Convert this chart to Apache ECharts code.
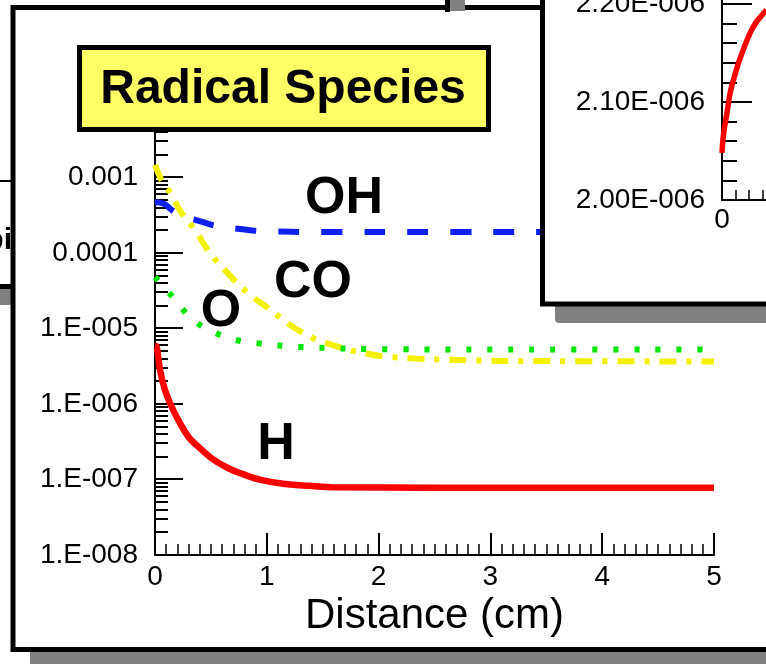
<!DOCTYPE html>
<html>
<head>
<meta charset="utf-8">
<script src="https://cdn.jsdelivr.net/npm/echarts@6/dist/echarts.min.js"></script>
<style>
  html, body { margin: 0; padding: 0; background: #ffffff; }
  #chart { width: 766px; height: 664px; }
</style>
</head>
<body>
<div id="chart"></div>
<script>
// Radical species mole fractions along the flame, distance in cm
const ohX = [0, 0.08, 0.15, 0.25, 0.4, 0.55, 0.76, 0.94, 1.5, 2.5, 3.5, 5];
const ohY = [4.7e-4, 4.5e-4, 3.7e-4, 3.1e-4, 2.65e-4, 2.28e-4, 2.08e-4, 1.95e-4, 1.9e-4, 1.9e-4, 1.9e-4, 1.9e-4];

const coX = [0, 0.07, 0.15, 0.22, 0.37, 0.47, 0.64, 0.83, 1.01, 1.21, 1.41, 1.61, 1.81, 2.1, 2.8, 3.5, 5];
const coY = [1.47e-3, 8.5e-4, 5.9e-4, 3.7e-4, 1.9e-4, 1.1e-4, 5.6e-5, 2.95e-5, 1.87e-5, 1.11e-5, 7.5e-6, 5.9e-6, 4.9e-6, 4.2e-6, 3.8e-6, 3.7e-6, 3.66e-6];

const oX = [0, 0.16, 0.34, 0.54, 0.72, 0.91, 1.3, 2.2, 3.5, 5];
const oY = [4.8e-5, 2.6e-5, 1.3e-5, 8.7e-6, 7.05e-6, 6.4e-6, 5.7e-6, 5.3e-6, 5.25e-6, 5.25e-6];

const hX = [0, 0.015, 0.045, 0.089, 0.149, 0.208, 0.298, 0.387, 0.507, 0.656, 0.805, 0.954, 1.163, 1.402, 1.58, 2.5, 3.5, 5];
const hY = [5.9e-6, 5.74e-6, 2.82e-6, 1.53e-6, 9.2e-7, 6.14e-7, 3.69e-7, 2.72e-7, 1.91e-7, 1.41e-7, 1.15e-7, 9.8e-8, 8.7e-8, 8.2e-8, 7.9e-8, 7.8e-8, 7.8e-8, 7.8e-8];

// Close-up of H near the burner surface
const zoomX = [0, 0.0012, 0.0036, 0.006, 0.0084, 0.012, 0.0157, 0.0207, 0.0256, 0.0305, 0.033];
const zoomY = [2.048e-6, 2.068e-6, 2.088e-6, 2.109e-6, 2.122e-6, 2.139e-6, 2.153e-6, 2.170e-6, 2.182e-6, 2.190e-6, 2.194e-6];

// Log-axis labels, one per decade from 1e-8 to 1e-3
const yDecadeLabels = ['1.E-008', '1.E-007', '1.E-006', '1.E-005', '0.0001', '0.001'];
const yMin = 1e-8, yMax = 0.004;

// Major and minor log ticks (1..9 x 10^k) drawn as short inward marks
const logTicks = [];
for (let k = -8; k <= -3; k++) {
  for (let m = 1; m <= 9; m++) {
    const v = m * Math.pow(10, k);
    if (v <= yMax * 1.0001) logTicks.push([0, v, m === 1 ? 1 : 0]);
  }
}

const pairs = (xs, ys) => xs.map((x, i) => [x, ys[i]]);
const FONT = '"Liberation Sans", Arial, Helvetica, sans-serif';

const chart = echarts.init(document.getElementById('chart'), null, { renderer: 'canvas' });

chart.setOption({
  animation: false,
  backgroundColor: '#ffffff',
  grid: [
    { left: 155, top: 132, width: 559, height: 423, outerBoundsMode: 'none', containLabel: false },
    { left: 722, top: -94, width: 540, height: 294, outerBoundsMode: 'none', containLabel: false }
  ],
  xAxis: [
    {
      gridIndex: 0, type: 'value', min: 0, max: 5, interval: 1, z: 3,
      name: 'Distance (cm)', nameLocation: 'middle', nameGap: 37,
      nameTextStyle: { fontFamily: FONT, fontSize: 42, color: '#000' },
      axisLine: { show: true, onZero: false, lineStyle: { color: '#000', width: 2 } },
      axisTick: { show: true, inside: true, length: 22, lineStyle: { color: '#000', width: 2 } },
      minorTick: { show: true, splitNumber: 10, length: 11, lineStyle: { color: '#000', width: 1.5 } },
      axisLabel: { fontFamily: FONT, fontSize: 28, color: '#000', margin: 8 },
      splitLine: { show: false }
    },
    {
      gridIndex: 1, type: 'value', min: 0, max: 0.4, interval: 0.1, z: 8,
      axisLine: { show: true, onZero: false, lineStyle: { color: '#000', width: 2 } },
      axisTick: { show: true, inside: true, length: 30, lineStyle: { color: '#000', width: 2 } },
      minorTick: { show: true, splitNumber: 10, length: 10, lineStyle: { color: '#000', width: 1.5 } },
      axisLabel: { fontFamily: FONT, fontSize: 28, color: '#000', margin: 6 },
      splitLine: { show: false }
    }
  ],
  yAxis: [
    {
      gridIndex: 0, type: 'log', logBase: 10, min: yMin, max: yMax, z: 3,
      axisLine: { show: true, onZero: false, lineStyle: { color: '#000', width: 2 } },
      axisTick: { show: false },
      axisLabel: {
        fontFamily: FONT, fontSize: 28, color: '#000', margin: 17, showMaxLabel: false,
        padding: [4, 0, 0, 0],
        formatter: v => yDecadeLabels[Math.round(Math.log10(v)) + 8] || ''
      },
      splitLine: { show: false }
    },
    {
      gridIndex: 1, type: 'value', min: 2.0e-6, max: 2.3e-6, interval: 1e-7, z: 8,
      axisLine: { show: true, onZero: false, lineStyle: { color: '#000', width: 2 } },
      axisTick: { show: true, inside: true, length: 30, lineStyle: { color: '#000', width: 2 } },
      minorTick: { show: true, splitNumber: 5, length: 15, lineStyle: { color: '#000', width: 2 } },
      axisLabel: {
        fontFamily: FONT, fontSize: 28, color: '#000', margin: 17,
        padding: [4, 0, 0, 0],
        formatter: v => (v * 1e6).toFixed(2) + 'E-006'
      },
      splitLine: { show: false }
    }
  ],
  series: [
    {
      type: 'custom', name: 'logTicks', xAxisIndex: 0, yAxisIndex: 0, z: 3,
      silent: true, clip: false, data: logTicks, encode: { x: 0, y: 1 },
      renderItem: (params, api) => {
        const p = api.coord([0, api.value(1)]);
        const len = api.value(2) ? 28 : 13;
        return {
          type: 'line',
          shape: { x1: p[0], y1: Math.round(p[1]), x2: p[0] + len, y2: Math.round(p[1]) },
          style: { stroke: '#000', lineWidth: 2 }
        };
      }
    },
    {
      type: 'line', name: 'OH', xAxisIndex: 0, yAxisIndex: 0, z: 4,
      data: pairs(ohX, ohY), symbol: 'none', smooth: 0.4,
      lineStyle: { color: '#1020f0', width: 6, type: [21, 22], cap: 'butt' }
    },
    {
      type: 'line', name: 'CO', xAxisIndex: 0, yAxisIndex: 0, z: 4,
      data: pairs(coX, coY), symbol: 'none', smooth: 0.4,
      lineStyle: { color: '#f2f200', width: 6, type: [17, 10, 5, 10], cap: 'butt' }
    },
    {
      type: 'line', name: 'O', xAxisIndex: 0, yAxisIndex: 0, z: 4,
      data: pairs(oX, oY), symbol: 'none', smooth: 0.4,
      lineStyle: { color: '#00e600', width: 6, type: [5, 16], cap: 'butt' }
    },
    {
      type: 'line', name: 'H', xAxisIndex: 0, yAxisIndex: 0, z: 4,
      data: pairs(hX, hY), symbol: 'none', smooth: 0.4,
      lineStyle: { color: '#ff0000', width: 6.5 }
    },
    {
      type: 'line', name: 'H (near surface)', xAxisIndex: 1, yAxisIndex: 1, z: 9,
      data: pairs(zoomX, zoomY), symbol: 'none', smooth: 0.4,
      lineStyle: { color: '#ff0000', width: 5.5 }
    }
  ],
  graphic: [
    // pieces of the neighbouring panels
    { type: 'rect', z: 0, shape: { x: 0, y: 180, width: 12, height: 2 }, style: { fill: '#000' } },
    { type: 'text', z: 0, x: 12, y: 241,
      style: { text: 'pi', font: 'bold 30px ' + FONT, fill: '#000', align: 'right', verticalAlign: 'middle', textAlign: 'right', textVerticalAlign: 'middle' } },
    { type: 'rect', z: 0, shape: { x: 0, y: 284, width: 12, height: 5 }, style: { fill: '#000' } },
    { type: 'rect', z: 0, shape: { x: 0, y: 289, width: 11, height: 16 }, style: { fill: '#808080' } },
    // main panel with drop shadow
    { type: 'rect', z: 0, shape: { x: 30, y: 30, width: 900, height: 700 }, style: { fill: '#808080' } },
    { type: 'rect', z: 1, shape: { x: 13, y: 7.5, width: 900, height: 642 }, style: { fill: '#ffffff', stroke: '#000', lineWidth: 5 } },
    { type: 'rect', z: 2, shape: { x: 445, y: 0, width: 5, height: 12 }, style: { fill: '#000' } },
    { type: 'rect', z: 2, shape: { x: 450, y: 0, width: 15, height: 11 }, style: { fill: '#808080' } },
    // species names
    { type: 'text', z: 5, x: 344, y: 199,
      style: { text: 'OH', font: 'bold 52px ' + FONT, fill: '#000', align: 'center', verticalAlign: 'middle', textAlign: 'center', textVerticalAlign: 'middle' } },
    { type: 'text', z: 5, x: 313, y: 283,
      style: { text: 'CO', font: 'bold 52px ' + FONT, fill: '#000', align: 'center', verticalAlign: 'middle', textAlign: 'center', textVerticalAlign: 'middle' } },
    { type: 'text', z: 5, x: 221, y: 312,
      style: { text: 'O', font: 'bold 52px ' + FONT, fill: '#000', align: 'center', verticalAlign: 'middle', textAlign: 'center', textVerticalAlign: 'middle' } },
    { type: 'text', z: 5, x: 276, y: 445,
      style: { text: 'H', font: 'bold 52px ' + FONT, fill: '#000', align: 'center', verticalAlign: 'middle', textAlign: 'center', textVerticalAlign: 'middle' } },
    // close-up panel with drop shadow
    { type: 'rect', z: 6, shape: { x: 555, y: 0, width: 400, height: 323, r: 4 }, style: { fill: '#808080' } },
    { type: 'rect', z: 7, shape: { x: 542.5, y: -20, width: 400, height: 324 }, style: { fill: '#ffffff', stroke: '#000', lineWidth: 5 } },
    // title box
    { type: 'rect', z: 10, shape: { x: 79.5, y: 47.5, width: 409, height: 82 }, style: { fill: '#ffff66', stroke: '#000', lineWidth: 5 } },
    { type: 'text', z: 11, x: 283, y: 90,
      style: { text: 'Radical Species', font: 'bold 48px ' + FONT, fill: '#000', align: 'center', verticalAlign: 'middle', textAlign: 'center', textVerticalAlign: 'middle' } }
  ]
});
</script>
</body>
</html>
